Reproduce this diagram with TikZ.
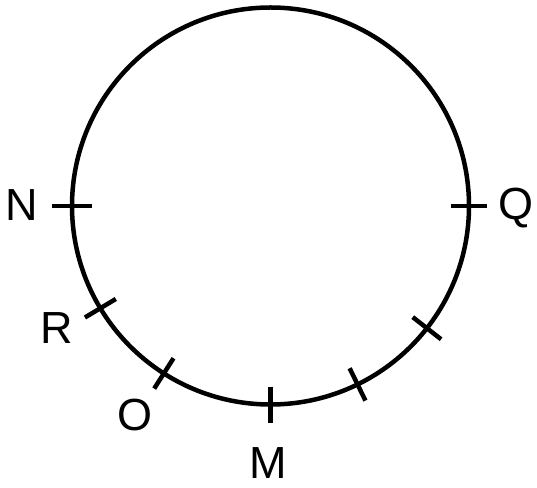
\documentclass[tikz,border=0pt]{standalone}
\usepackage{fontspec}
\setmainfont{Liberation Sans}
\usetikzlibrary{calc}
\begin{document}
\begin{tikzpicture}[x=1pt,y=1pt,
  arcline/.style={line width=4.5pt,black},
  tickmark/.style={line width=4.5pt,black},
  lbl/.style={font=\fontsize{45}{45}\selectfont,inner sep=0pt,anchor=center}]
\useasboundingbox (0,0) rectangle (537,487);
\coordinate (c) at (270.5,281);
\def\R{198.5}
\draw[arcline] (c) circle[radius=\R];
\foreach \a/\l in {180/20,211/18,237.5/18,270/18,296/18,322/18,0/18}{
  \draw[tickmark] ($(c)+(\a:\R-\l)$) -- ($(c)+(\a:\R+\l)$);
}
\node[lbl] (N) at (22,282) {N};
\node[lbl] (Q) at (516,279) {Q};
\node[lbl] (R) at (57,159) {R};
\node[lbl] (O) at (135,72) {O};
\node[lbl] (M) at (268,24) {M};
\end{tikzpicture}
\end{document}
